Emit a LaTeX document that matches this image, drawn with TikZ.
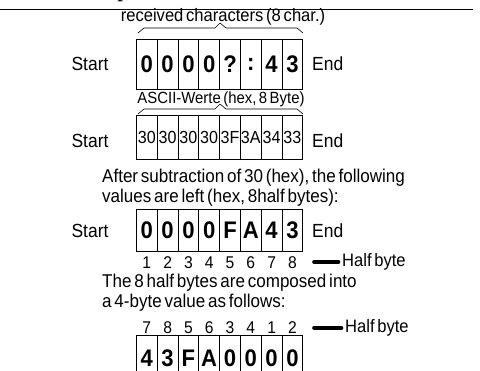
\documentclass[tikz,border=0pt]{standalone}
\usepackage{fontspec}
\setmainfont{Liberation Sans}[FakeStretch=0.92,WordSpace=0.6]
\newfontfamily\headfont{Liberation Serif}
\usetikzlibrary{calc}

\tikzset{
  cell/.style={draw,line width=0.8pt,minimum width=20.8pt,inner sep=0pt,anchor=north west},
  bigdigit/.style={font=\fontsize{24}{24}\selectfont\bfseries},
  hexdigit/.style={font=\fontsize{17.5}{17.5}\selectfont},
  label/.style={font=\fontsize{18}{18}\selectfont,inner sep=0pt},
  side/.style={font=\fontsize{19}{19}\selectfont,inner sep=0pt},
  note/.style={font=\fontsize{18.5}{20}\selectfont,inner sep=0pt,anchor=north west,align=left},
  idx/.style={font=\fontsize{17}{17}\selectfont,inner sep=0pt},
  bracket/.style={line width=0.6pt,line join=round},
  marker/.style={line width=3.6pt,line cap=round,shorten >=3.5pt}
}

\begin{document}
\begin{tikzpicture}[x=1pt,y=-1pt]
    \useasboundingbox (0,0) rectangle (480,371);
    \clip (0,0) rectangle (480,371);
    \def\xo{136}
    \def\w{20.8}
    % cut-off heading and rule
    \node[font=\fontsize{20}{20}\headfont\bfseries\itshape,inner sep=0pt,anchor=base] (head) at (124,-2) {p};
    \draw[line width=1pt] (0,10) -- (473,10);
    % received characters
    \node[label] (rcvd) at (223,17) {received characters (8 char.)};
    \draw[bracket] (138,33) -- (144,28) -- (215,28) -- (220,23) -- (226,28) -- (297,28) -- (303,33);
    \foreach \c [count=\i] in {0,0,0,0,?,:,4,3}
        \node[cell,bigdigit,minimum height=50pt] (a\i) at ({\xo+(\i-1)*\w},39) {\c};
    \node[side] (astart) at (90,64) {Start};
    \node[side,anchor=west] (aend) at (312,64) {End};
    % ASCII values
    \node[label,font=\fontsize{16.2}{16.2}\selectfont] (ascii) at (221,99) {ASCII-Werte (hex, 8 Byte)};
    \draw[bracket] (138,114) -- (144,109) -- (215,109) -- (220,104) -- (226,109) -- (297,109) -- (303,114);
    \foreach \c [count=\i] in {30,30,30,30,3F,3A,34,33}
        \node[cell,hexdigit,minimum height=44pt] (b\i) at ({\xo+(\i-1)*\w},115) {\c};
    \node[side] (bstart) at (90,141) {Start};
    \node[side,anchor=west] (bend) at (312,141) {End};
    % after subtraction
    \node[note] (sub) at (102,169) {After subtraction of 30 (hex), the following\\values are left (hex, 8half bytes):};
    \foreach \c [count=\i] in {0,0,0,0,F,A,4,3}
        \node[cell,bigdigit,minimum height=42pt] (c\i) at ({\xo+(\i-1)*\w},209) {\c};
    \node[side] (cstart) at (90,231) {Start};
    \node[side,anchor=west] (cend) at (312,231) {End};
    \foreach \i in {1,...,8}
        \node[idx] (n\i) at ($(c\i.south)+(0,11)$) {\i};
    \node[label,anchor=west] (hb1) at (342,262) {Half byte};
    \coordinate (m1) at (314,262);
    \draw[marker] (m1) -- (hb1.west);
    % composed value
    \node[note] (comp) at (102,274) {The 8 half bytes are composed into\\a 4-byte value as follows:};
    \foreach \c [count=\i] in {4,3,F,A,0,0,0,0}
        \node[cell,bigdigit,minimum height=46pt] (d\i) at ({\xo+(\i-1)*\w},335) {\c};
    \foreach \k [count=\i] in {7,8,5,6,3,4,1,2}
        \node[idx] (o\i) at ($(d\i.north)+(0,-7)$) {\k};
    \node[label,anchor=west] (hb2) at (345,328) {Half byte};
    \coordinate (m2) at (314,328);
    \draw[marker] (m2) -- (hb2.west);
\end{tikzpicture}
\end{document}
